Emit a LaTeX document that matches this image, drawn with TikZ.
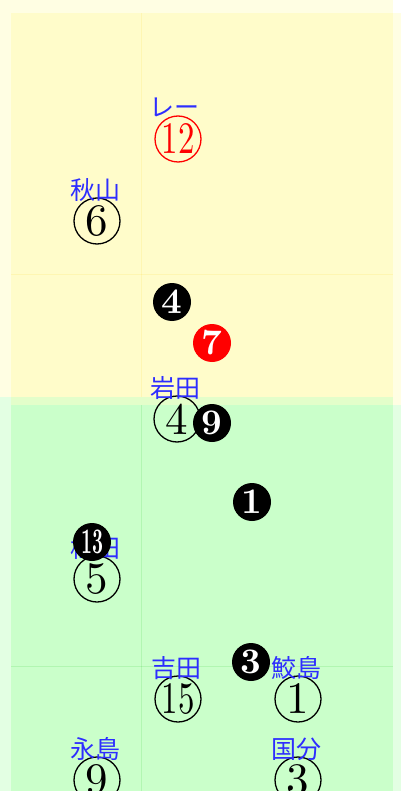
\documentclass[tikz,border=0pt]{standalone}
\usepackage{fontspec}
\newfontfamily\jpfont{Noto Sans CJK JP}
\newfontfamily\numfont{lmroman10-regular}[Extension=.otf,BoldFont=lmroman10-bold]
\usetikzlibrary{calc,positioning}
\definecolor{place blue}{RGB}{45,45,255}
\tikzset{
    yellow panel/.style={fill=yellow,fill opacity=.11},
    green panel/.style={fill=green,fill opacity=.11},
    grid line/.style={line width=.8pt,draw opacity=.12},
    place name/.style={text=place blue,inner sep=0pt,font=\jpfont\fontsize{25}{25}\selectfont},
    ring/.style={circle,draw,line width=1.3pt,minimum size=46pt,inner sep=0pt,font=\numfont\fontsize{45}{45}\selectfont},
    disc/.style={circle,fill=#1,text=white,minimum size=38pt,inner sep=0pt,font=\numfont\bfseries\fontsize{36}{36}\selectfont},
    disc/.default=black,
}
\newcommand\ringnum[1]{\ifnum#1>9 \scalebox{.73}[1]{#1}\else #1\fi}

\begin{document}
\begin{tikzpicture}[x=1pt,y=-1pt]
        \useasboundingbox (0,0) rectangle (401,791);
        % panels
        \fill[yellow panel] (0,0) rectangle (393,397);
        \fill[yellow panel] (11,13) rectangle (401,405);
        \fill[green panel] (0,397) rectangle (393,791);
        \fill[green panel] (11,405) rectangle (401,791);
        \draw[grid line,yellow!60!orange] (141,13) -- (141,397);
        \draw[grid line,green!70!black] (141,405) -- (141,791);
        \draw[grid line,yellow!60!orange] (11,274) -- (393,274);
        \draw[grid line,green!70!black] (11,666) -- (393,666);
        % stops
        \node[ring,draw=red,text=red] (ring12) at (178,139) {\ringnum{12}};
        \node[place name] (name12) at ($(ring12)+(-4,-32)$) {レー};
        \foreach \num/\px/\py/\txt in {6/97/221/秋山, 4/177/419/岩田, 5/97/579/松田,
            15/178/699/吉田, 1/298/699/鮫島, 9/97/780/永島, 3/298/780/国分}
        {
            \node[ring] (ring\num) at (\px,\py) {\ringnum{\num}};
            \node[place name] (name\num) at ($(ring\num)+(-2,-31)$) {\txt};
        }
        % order marks
        \node[disc] (disc4) at (172,302) {4};
        \node[disc=red] (disc7) at (212,343) {7};
        \node[disc] (disc9) at (212,423) {9};
        \node[disc] (disc1) at (252,502) {1};
        \node[disc] (disc13) at (92,542) {\scalebox{.53}[1]{13}};
        \node[disc] (disc3) at (251,662) {3};
\end{tikzpicture}
\end{document}
